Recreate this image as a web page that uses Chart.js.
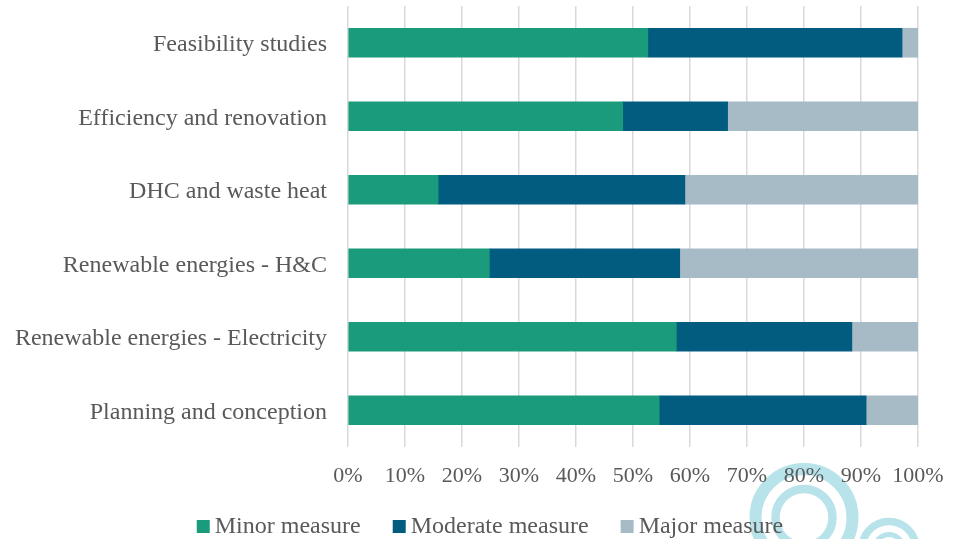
<!DOCTYPE html>
<html>
<head>
<meta charset="utf-8">
<script src="https://cdn.jsdelivr.net/npm/chart.js@4/dist/chart.umd.min.js"></script>
<style>
  html, body { margin: 0; padding: 0; background: #ffffff; }
  #wrap { width: 959px; height: 539px; position: relative; }
</style>
</head>
<body>
<div id="wrap"><canvas id="chart" width="959" height="539"></canvas></div>
<script>
// Share of measures by field of action (percent of each row)
const categories = [
  'Feasibility studies',
  'Efficiency and renovation',
  'DHC and waste heat',
  'Renewable energies - H&C',
  'Renewable energies - Electricity',
  'Planning and conception'
];
const minorMeasure    = [52.6, 48.2, 15.8, 24.8, 57.6, 54.6];
const moderateMeasure = [44.6, 18.4, 43.3, 33.4, 30.8, 36.3];
const majorMeasure    = [2.8, 33.4, 40.9, 41.8, 11.6, 9.1];
const seriesNames = ['Minor measure', 'Moderate measure', 'Major measure'];
const xTicks = [0, 10, 20, 30, 40, 50, 60, 70, 80, 90, 100];

const COLORS = ['#1a9b7b', '#025c80', '#a7bbc7'];
const TEXT = '#595959';
const FONT = "'Liberation Serif', 'Times New Roman', serif";

// Decorative ring emblem painted underneath the chart
const ringEmblem = {
  id: 'ringEmblem',
  beforeDraw(chart) {
    const ctx = chart.ctx;
    ctx.save();
    ctx.strokeStyle = '#b8e3ea';
    const rings = [
      [804, 517.5, 48.5, 12],
      [804, 517.5, 28.5, 8.5],
      [889, 548.5, 27, 7.5],
      [889, 548.5, 14, 5]
    ];
    rings.forEach(([x, y, r, w]) => {
      ctx.beginPath();
      ctx.lineWidth = w;
      ctx.arc(x, y, r, 0, Math.PI * 2);
      ctx.stroke();
    });
    ctx.restore();
  }
};

// Legend row under the axis: small square swatch followed by the series name
const bottomLegend = {
  id: 'bottomLegend',
  afterDraw(chart) {
    const ctx = chart.ctx;
    const box = 13, gap = 5, spacing = 32, baseline = 533, centerX = 490;
    ctx.save();
    ctx.font = '24px ' + FONT;
    const items = chart.data.datasets.map(ds => ({
      text: ds.label,
      color: ds.backgroundColor,
      w: ctx.measureText(ds.label).width
    }));
    const total = items.reduce((s, it) => s + box + gap + it.w, 0) + spacing * (items.length - 1);
    let x = centerX - total / 2;
    ctx.textBaseline = 'alphabetic';
    ctx.textAlign = 'left';
    items.forEach(it => {
      ctx.fillStyle = it.color;
      ctx.fillRect(x, baseline - box, box, box);
      ctx.fillStyle = TEXT;
      ctx.fillText(it.text, x + box + gap, baseline);
      x += box + gap + it.w + spacing;
    });
    ctx.restore();
  }
};

new Chart(document.getElementById('chart'), {
  type: 'bar',
  data: {
    labels: categories,
    datasets: [minorMeasure, moderateMeasure, majorMeasure].map((d, i) => ({
      label: seriesNames[i],
      data: d,
      backgroundColor: COLORS[i],
      borderWidth: 0,
      barThickness: 29
    }))
  },
  options: {
    indexAxis: 'y',
    responsive: false,
    animation: false,
    layout: { padding: { left: 0, right: 41, top: 6, bottom: 0 } },
    scales: {
      x: {
        stacked: true,
        min: 0,
        max: 100,
        afterBuildTicks(scale) { scale.ticks = xTicks.map(v => ({ value: v })); },
        afterFit(scale) {
          scale.height = 92;
          scale.paddingLeft = 0;
          scale.paddingRight = 0;
        },
        ticks: {
          callback: v => v + '%',
          color: TEXT,
          font: { family: FONT, size: 22 },
          padding: 16,
          maxRotation: 0
        },
        grid: { color: '#d9d9d9', lineWidth: 1.5, drawTicks: false },
        border: { display: false }
      },
      y: {
        stacked: true,
        afterFit(scale) {
          scale.width = 348;
          scale.paddingTop = 0;
          scale.paddingBottom = 0;
        },
        ticks: {
          color: TEXT,
          font: { family: FONT, size: 24 },
          padding: 21,
          labelOffset: 2
        },
        grid: { display: false, drawTicks: false },
        border: { display: false }
      }
    },
    plugins: {
      legend: { display: false },
      tooltip: { enabled: false }
    }
  },
  plugins: [ringEmblem, bottomLegend]
});
</script>
</body>
</html>
